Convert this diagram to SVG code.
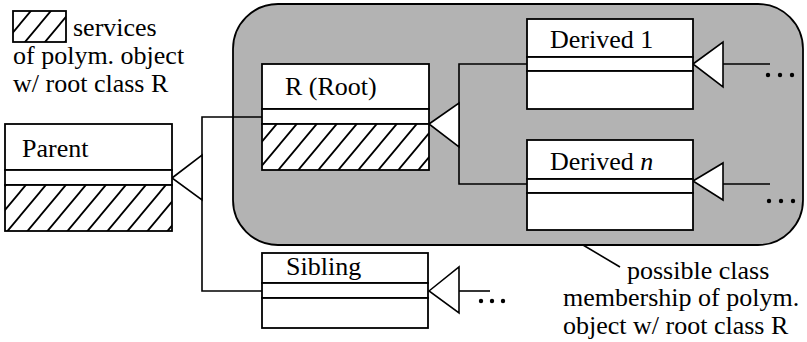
<svg xmlns="http://www.w3.org/2000/svg" width="807" height="342" viewBox="0 0 807 342">
  <style>
    .box { fill: #fff; stroke: #000; stroke-width: 1.8; }
    .hatch { fill: url(#hatch); stroke: #000; stroke-width: 1.8; }
    .wire { stroke: #000; stroke-width: 1.6; fill: none; }
    .tri { fill: #fff; stroke: #000; stroke-width: 1.6; }
    .lbl { font-family: "Liberation Serif", "Times New Roman", serif; font-size: 26px; fill: #000; }
    .dot { fill: #000; }
  </style>
  <defs>
    <!-- diagonal hatching for the services compartments -->
    <pattern id="hatch" patternUnits="userSpaceOnUse" width="20" height="24">
      <rect width="20" height="24" fill="#fff"/>
      <path d="M0,24 L20,0 M-5,6 L5,-6 M15,30 L25,18" stroke="#000" stroke-width="1.8"/>
    </pattern>
  </defs>

  <!-- region of possible class membership -->
  <rect id="membership-region" x="233" y="4" width="570" height="241" rx="45" ry="45" fill="#b3b3b3" stroke="#000" stroke-width="1.8"/>

  <!-- legend -->
  <g id="legend">
    <rect x="13" y="11" width="53" height="31" class="hatch"/>
    <text class="lbl" x="73" y="36">services</text>
    <text class="lbl" x="13" y="64">of polym. object</text>
    <text class="lbl" x="13" y="92">w/ root class R</text>
  </g>

  <!-- connectors -->
  <g id="connectors">
    <!-- Root and Sibling to Parent -->
    <polyline class="wire" points="262,117 202,117 202,291 262,291"/>
    <polygon class="tri" points="172,178 202,155 202,200"/>
    <!-- Derived classes to Root -->
    <polyline class="wire" points="527,64 459,64 459,184 527,184"/>
    <polygon class="tri" points="429,124 459,103 459,147"/>
    <!-- further subclasses -->
    <line class="wire" x1="723" y1="64" x2="770" y2="64"/>
    <polygon class="tri" points="693,64 723,42 723,87"/>
    <line class="wire" x1="723" y1="184" x2="770" y2="184"/>
    <polygon class="tri" points="693,181 723,163 723,200"/>
    <line class="wire" x1="459" y1="291" x2="490" y2="291"/>
    <polygon class="tri" points="429,291 459,267 459,313"/>
    <!-- callout -->
    <line class="wire" x1="583" y1="245" x2="620" y2="267"/>
  </g>

  <g id="parent">
    <rect x="5" y="124" width="167" height="46" class="box"/>
    <rect x="5" y="170" width="167" height="15" class="box"/>
    <rect x="5" y="185" width="167" height="46" class="hatch"/>
    <text class="lbl" x="22" y="157">Parent</text>
  </g>

  <g id="root">
    <rect x="262" y="64" width="167" height="45" class="box"/>
    <rect x="262" y="109" width="167" height="15" class="box"/>
    <rect x="262" y="124" width="167" height="46" class="hatch"/>
    <text class="lbl" x="285" y="95">R (Root)</text>
  </g>

  <g id="derived-1">
    <rect x="527" y="19" width="166" height="38" class="box"/>
    <rect x="527" y="57" width="166" height="14" class="box"/>
    <rect x="527" y="71" width="166" height="38" class="box"/>
    <text class="lbl" x="550" y="48">Derived 1</text>
    <circle class="dot" cx="768" cy="75" r="2.2"/>
    <circle class="dot" cx="780" cy="75" r="2.2"/>
    <circle class="dot" cx="792" cy="75" r="2.2"/>
  </g>

  <g id="derived-n">
    <rect x="527" y="140" width="166" height="39" class="box"/>
    <rect x="527" y="179" width="166" height="14" class="box"/>
    <rect x="527" y="193" width="166" height="37" class="box"/>
    <text class="lbl" x="550" y="170">Derived <tspan font-style="italic">n</tspan></text>
    <circle class="dot" cx="769" cy="201" r="2.2"/>
    <circle class="dot" cx="781" cy="201" r="2.2"/>
    <circle class="dot" cx="793" cy="201" r="2.2"/>
  </g>

  <g id="sibling">
    <rect x="262" y="253" width="166" height="30" class="box"/>
    <rect x="262" y="283" width="166" height="15" class="box"/>
    <rect x="262" y="298" width="166" height="30" class="box"/>
    <text class="lbl" x="286" y="275">Sibling</text>
    <circle class="dot" cx="481" cy="301" r="2.2"/>
    <circle class="dot" cx="492" cy="301" r="2.2"/>
    <circle class="dot" cx="503" cy="301" r="2.2"/>
  </g>

  <g id="callout-text">
    <text class="lbl" x="627" y="279">possible class</text>
    <text class="lbl" x="563" y="306">membership of polym.</text>
    <text class="lbl" x="563" y="334">object w/ root class R</text>
  </g>
</svg>
